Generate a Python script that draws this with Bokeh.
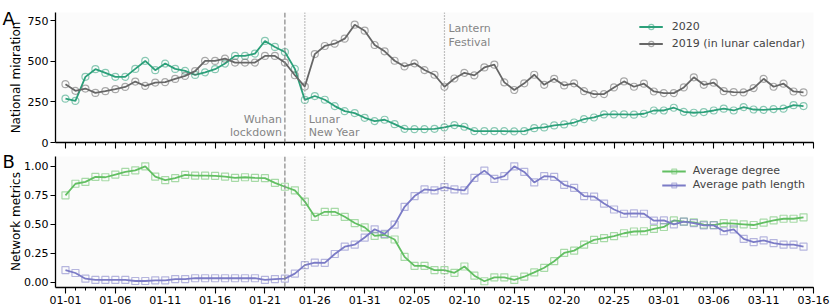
import math
from bokeh.plotting import figure
from bokeh.layouts import column, row
from bokeh.models import (Range1d, FixedTicker, Span, Label, Legend, LegendItem,
                          PrintfTickFormatter, CustomJSTickFormatter)
from bokeh.core.properties import value
from bokeh.embed import file_html
from bokeh.resources import INLINE

# ---------------- data ----------------
days = list(range(75))  # 2020-01-01 .. 2020-03-15
tick_days = [0, 5, 10, 15, 20, 25, 30, 35, 40, 45, 50, 55, 60, 65, 70, 75]
tick_labels = ["01-01", "01-06", "01-11", "01-16", "01-21", "01-26", "01-31", "02-05",
               "02-10", "02-15", "02-20", "02-25", "03-01", "03-06", "03-11", "03-16"]

migration_2020 = [270, 256, 404, 451, 428, 404, 404, 453, 502, 445,
                  486, 453, 441, 416, 432, 451, 486, 533, 533, 547,
                  625, 588, 557, 453, 262, 286, 263, 224, 193, 181,
                  152, 132, 140, 113, 84, 82, 82, 84, 93, 107,
                  97, 70, 70, 70, 70, 68, 70, 88, 93, 105,
                  111, 123, 144, 154, 173, 173, 173, 171, 177, 197,
                  197, 214, 189, 183, 187, 197, 208, 197, 218, 203,
                  201, 206, 208, 230, 224]
migration_2019 = [359, 318, 332, 305, 316, 328, 342, 375, 348, 369,
                  371, 391, 410, 439, 502, 502, 516, 492, 492, 492,
                  533, 533, 492, 414, 344, 544, 594, 608, 639, 725,
                  688, 600, 561, 503, 468, 487, 446, 417, 343, 394,
                  429, 413, 462, 479, 370, 323, 364, 417, 355, 392,
                  351, 364, 316, 298, 298, 339, 376, 343, 362, 314,
                  304, 304, 339, 401, 355, 368, 316, 310, 308, 335,
                  392, 343, 362, 314, 308]

average_degree = [0.75, 0.85, 0.866, 0.909, 0.906, 0.929, 0.952, 0.966, 1.0, 0.912,
                  0.881, 0.898, 0.926, 0.920, 0.920, 0.918, 0.912, 0.901, 0.906, 0.901,
                  0.898, 0.858, 0.824, 0.793, 0.696, 0.565, 0.608, 0.608, 0.565, 0.511,
                  0.474, 0.40, 0.41, 0.369, 0.219, 0.142, 0.142, 0.105, 0.105, 0.082,
                  0.136, 0.057, 0.009, 0.043, 0.043, 0.020, 0.048, 0.085, 0.125, 0.182,
                  0.253, 0.273, 0.324, 0.366, 0.381, 0.398, 0.423, 0.438, 0.440, 0.460,
                  0.477, 0.534, 0.523, 0.517, 0.497, 0.494, 0.511, 0.506, 0.500, 0.494,
                  0.514, 0.534, 0.548, 0.548, 0.560]
average_path_length = [0.105, 0.080, 0.031, 0.020, 0.020, 0.020, 0.020, 0.011, 0.011, 0.017,
                       0.017, 0.028, 0.028, 0.035, 0.035, 0.035, 0.035, 0.035, 0.035, 0.035,
                       0.020, 0.028, 0.032, 0.075, 0.148, 0.170, 0.168, 0.244, 0.307, 0.324,
                       0.386, 0.457, 0.418, 0.497, 0.651, 0.744, 0.801, 0.793, 0.821, 0.801,
                       0.793, 0.901, 0.963, 0.892, 0.915, 1.0, 0.952, 0.861, 0.915, 0.909,
                       0.841, 0.815, 0.744, 0.739, 0.679, 0.628, 0.591, 0.594, 0.591, 0.531,
                       0.534, 0.500, 0.523, 0.511, 0.491, 0.491, 0.440, 0.457, 0.375, 0.347,
                       0.361, 0.338, 0.324, 0.324, 0.307]

event_days = [22, 24, 38]
event_lines = [["Wuhan", "lockdown"], ["Lunar", "New Year"], ["Lantern", "Festival"]]
event_dash = ["5 2", "1 2", "1 2"]

panel_letters = ["A", "B"]
panel_ylabels = ["National migration", "Network metrics"]

# ---------------- styles ----------------
FONT = "DejaVu Sans"
C2020 = "#2ca07a"
C2019 = "#666666"
CDEG = "#62bf62"
CPATH = "#7b7bc6"
EVC = "#858585"
BG = "#fbfbfb"

HA, HB = 149, 158
STRIP_W = 21

x_range = Range1d(-1, 75)


def style(p):
    p.background_fill_color = BG
    p.border_fill_color = "white"
    p.outline_line_color = None
    p.grid.visible = False
    for ax in (p.xaxis[0], p.yaxis[0]):
        ax.axis_line_color = "black"
        ax.axis_line_width = 1.3
        ax.major_tick_line_color = "black"
        ax.minor_tick_line_color = "black"
        ax.major_tick_in = 0
        ax.minor_tick_in = 0
        ax.major_label_text_font = FONT
        ax.major_label_text_font_size = "11px"
        ax.major_label_text_color = "black"
    xa = p.xaxis[0]
    xa.ticker = FixedTicker(ticks=tick_days, minor_ticks=days + [75])
    xa.major_tick_out = 6
    xa.minor_tick_out = 3
    xa.major_tick_line_width = 1.1
    xa.minor_tick_line_width = 1.0
    ya = p.yaxis[0]
    ya.major_tick_out = 5
    ya.minor_tick_out = 0
    ya.major_label_standoff = 2
    for d, dash in zip(event_days, event_dash):
        p.add_layout(Span(location=d, dimension="height", line_color=EVC,
                          line_width=1.2, line_dash=dash))


# ---------------- panel A ----------------
pA = figure(width=830 - STRIP_W, height=HA, x_range=x_range, y_range=Range1d(0, 800),
            output_backend="svg", toolbar_location=None,
            min_border_left=32, min_border_right=17, min_border_top=12, min_border_bottom=7)
style(pA)
pA.yaxis[0].ticker = FixedTicker(ticks=[0, 250, 500, 750])
pA.xaxis[0].formatter = CustomJSTickFormatter(code="return ''")
pA.xaxis[0].major_label_text_font_size = "0px"
pA.xaxis[0].major_label_standoff = 0

l20 = pA.line(days, migration_2020, line_color=C2020, line_width=1.8)
s20 = pA.scatter(days, migration_2020, marker="circle", size=7, fill_color=None,
                 line_color=C2020, line_alpha=0.55, line_width=1.2)
l19 = pA.line(days, migration_2019, line_color=C2019, line_width=1.8)
s19 = pA.scatter(days, migration_2019, marker="circle", size=7, fill_color=None,
                 line_color=C2019, line_alpha=0.55, line_width=1.2)

legA = Legend(items=[LegendItem(label="2020", renderers=[l20, s20]),
                     LegendItem(label="2019 (in lunar calendar)", renderers=[l19, s19])],
              location="top_right", border_line_color=None, background_fill_alpha=0,
              label_text_font=FONT, label_text_font_size="11px", glyph_width=24,
              glyph_height=13, label_height=13, label_standoff=9, spacing=4,
              padding=3, margin=8)
pA.add_layout(legA)

# event annotations (panel A)
txt = dict(text_font=FONT, text_font_size="11px", text_color=EVC, text_baseline="middle")
pA.add_layout(Label(x=event_days[0] - 0.3, y=142, text=event_lines[0][0], text_align="right", **txt))
pA.add_layout(Label(x=event_days[0] - 0.3, y=62, text=event_lines[0][1], text_align="right", **txt))
pA.add_layout(Label(x=event_days[1] + 0.4, y=142, text=event_lines[1][0], text_align="left", **txt))
pA.add_layout(Label(x=event_days[1] + 0.4, y=62, text=event_lines[1][1], text_align="left", **txt))
pA.add_layout(Label(x=event_days[2] + 0.4, y=702, text=event_lines[2][0], text_align="left", **txt))
pA.add_layout(Label(x=event_days[2] + 0.4, y=616, text=event_lines[2][1], text_align="left", **txt))

# ---------------- panel B ----------------
pB = figure(width=830 - STRIP_W, height=HB, x_range=x_range, y_range=Range1d(-0.045, 1.085),
            output_backend="svg", toolbar_location=None,
            min_border_left=32, min_border_right=17, min_border_top=7, min_border_bottom=20)
style(pB)
pB.yaxis[0].ticker = FixedTicker(ticks=[0, 0.25, 0.5, 0.75, 1.0])
pB.yaxis[0].formatter = PrintfTickFormatter(format="%.2f")
pB.xaxis[0].major_label_overrides = {d: lab for d, lab in zip(tick_days, tick_labels)}
pB.xaxis[0].major_label_standoff = 2

ld = pB.line(days, average_degree, line_color=CDEG, line_width=1.8)
sd = pB.scatter(days, average_degree, marker="square", size=7, fill_color=None,
                line_color=CDEG, line_alpha=0.55, line_width=1.2)
lp = pB.line(days, average_path_length, line_color=CPATH, line_width=1.8)
sp = pB.scatter(days, average_path_length, marker="square", size=7, fill_color=None,
                line_color=CPATH, line_alpha=0.55, line_width=1.2)

legB = Legend(items=[LegendItem(label="Average degree", renderers=[ld, sd]),
                     LegendItem(label="Average path length", renderers=[lp, sp])],
              location="top_right", border_line_color=None, background_fill_alpha=0,
              label_text_font=FONT, label_text_font_size="11px", glyph_width=24,
              glyph_height=12, label_height=12, label_standoff=7, spacing=1,
              padding=2, margin=8)
pB.add_layout(legB)

# ---------------- left strip: panel letters and y-axis titles ----------------
H = HA + HB
strip = figure(width=STRIP_W, height=H, x_range=Range1d(0, STRIP_W), y_range=Range1d(0, H),
               output_backend="svg", toolbar_location=None, x_axis_type=None, y_axis_type=None,
               min_border=0, min_border_left=0, min_border_right=0, min_border_top=0,
               min_border_bottom=0)
strip.outline_line_color = None
strip.grid.visible = False
strip.background_fill_color = "white"
strip.border_fill_color = "white"
strip.text(x=[2, 2], y=[H - 18, H - 161], text=panel_letters, text_font=value(FONT),
           text_font_size="18px", text_color="black", text_align="left",
           text_baseline="alphabetic")
strip.text(x=[15, 15], y=[H - 77, H - 221], text=panel_ylabels, text_font=value(FONT),
           text_font_size="12px", text_color="black", text_align="center",
           text_baseline="middle", angle=math.pi / 2)

layout = row(strip, column(pA, pB, spacing=0), spacing=0)
open("out.html", "w").write(file_html(layout, INLINE))
